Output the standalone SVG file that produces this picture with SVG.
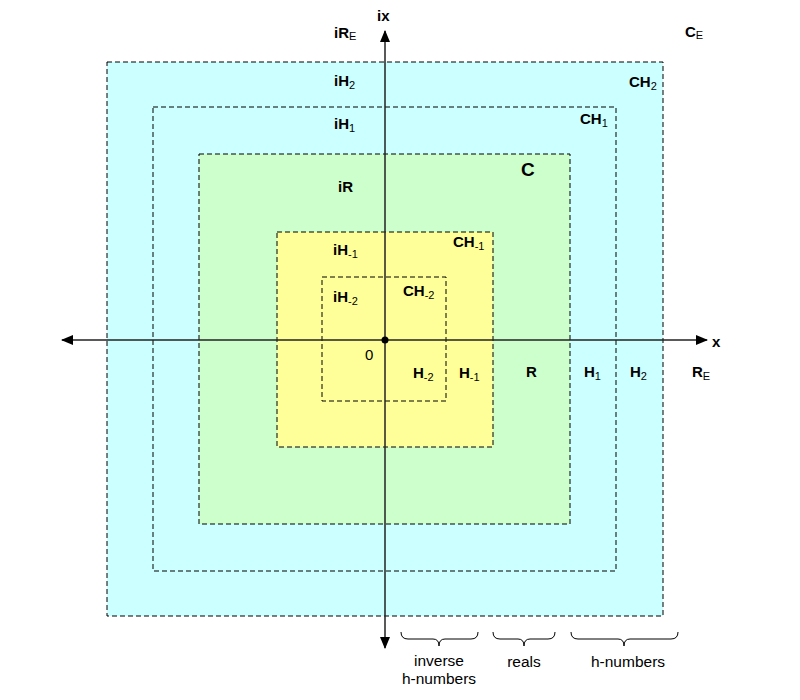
<svg xmlns="http://www.w3.org/2000/svg" width="800" height="700" viewBox="0 0 800 700">
<defs>
<style>
.lbl{font-family:"Liberation Sans",Arial,sans-serif;font-size:15px;font-weight:bold;fill:#000}
.sub{font-size:11px;font-weight:normal}
.txt{font-family:"Liberation Sans",Arial,sans-serif;font-size:15.5px;fill:#000;text-anchor:middle}
.box{stroke:#000;stroke-width:1;stroke-dasharray:5,3}
.brace{fill:none;stroke:#000;stroke-width:1}
.axis{stroke:#222;stroke-width:1.5;fill:none}
</style>
<marker id="arr" viewBox="0 0 12 10" refX="11" refY="5" markerWidth="12" markerHeight="10" markerUnits="userSpaceOnUse" orient="auto">
<path d="M0,0 L12,5 L0,10 Z" fill="#000"/>
</marker>
</defs>
<rect width="800" height="700" fill="#fff"/>
<g id="CH2"><rect x="107" y="62" width="556" height="554" fill="#ccffff" class="box" stroke="#555"/></g>
<g id="CH1"><rect x="153" y="107" width="463" height="464" fill="none" class="box"/></g>
<g id="C"><rect x="199" y="154" width="371" height="370" fill="#ccffcc" class="box"/></g>
<g id="CHm1"><rect x="277" y="232" width="216" height="215" fill="#ffff99" class="box"/></g>
<g id="CHm2"><rect x="322" y="277" width="124" height="124" fill="none" class="box"/></g>
<g id="connectors">
<line class="axis" x1="385" y1="340" x2="62" y2="340" marker-end="url(#arr)"/>
<line class="axis" x1="385" y1="340" x2="707" y2="340" marker-end="url(#arr)"/>
<line class="axis" x1="385" y1="340" x2="385" y2="31" marker-end="url(#arr)"/>
<line class="axis" x1="385" y1="340" x2="385" y2="648" marker-end="url(#arr)"/>
<circle cx="385" cy="340" r="3.5" fill="#000"/>
</g>
<g id="labels">
<text class="lbl" x="377" y="21">ix</text>
<text class="lbl" x="712" y="347">x</text>
<text class="lbl" x="334" y="38">iR<tspan class="sub" dy="2">E</tspan></text>
<text class="lbl" x="685" y="37">C<tspan class="sub" dy="2">E</tspan></text>
<text class="lbl" x="334" y="86">iH<tspan class="sub" dy="3">2</tspan></text>
<text class="lbl" x="629" y="87">CH<tspan class="sub" dy="3">2</tspan></text>
<text class="lbl" x="334" y="129">iH<tspan class="sub" dy="3">1</tspan></text>
<text class="lbl" x="580" y="124">CH<tspan class="sub" dy="3">1</tspan></text>
<text class="lbl" x="338" y="192">iR</text>
<text class="lbl" x="521" y="176" style="font-size:19px">C</text>
<text class="lbl" x="333" y="255">iH<tspan class="sub" dy="3">-1</tspan></text>
<text class="lbl" x="453" y="247">CH<tspan class="sub" dy="3">-1</tspan></text>
<text class="lbl" x="333" y="302">iH<tspan class="sub" dy="3">-2</tspan></text>
<text class="lbl" x="403" y="296">CH<tspan class="sub" dy="3">-2</tspan></text>
<text class="lbl" x="365" y="360" style="font-weight:normal">0</text>
<text class="lbl" x="413" y="378">H<tspan class="sub" dy="3">-2</tspan></text>
<text class="lbl" x="459" y="378">H<tspan class="sub" dy="3">-1</tspan></text>
<text class="lbl" x="526" y="377">R</text>
<text class="lbl" x="584" y="377">H<tspan class="sub" dy="3">1</tspan></text>
<text class="lbl" x="630" y="377">H<tspan class="sub" dy="3">2</tspan></text>
<text class="lbl" x="692" y="377">R<tspan class="sub" dy="3">E</tspan></text>
</g>
<g id="braces">
<path class="brace" d="M401,632 Q401,639 408,639 L433,639 Q439,639 439,646 Q439,639 445,639 L471,639 Q478,639 478,632"/>
<path class="brace" d="M493,632 Q493,639 500,639 L518,639 Q524,639 524,646 Q524,639 530,639 L548,639 Q555,639 555,632"/>
<path class="brace" d="M571,632 Q571,639 578,639 L618,639 Q624,639 624,646 Q624,639 630,639 L671,639 Q678,639 678,632"/>
<text class="txt" x="439" y="666">inverse</text>
<text class="txt" x="439" y="684">h-numbers</text>
<text class="txt" x="524" y="667">reals</text>
<text class="txt" x="628" y="667">h-numbers</text>
</g>
</svg>
